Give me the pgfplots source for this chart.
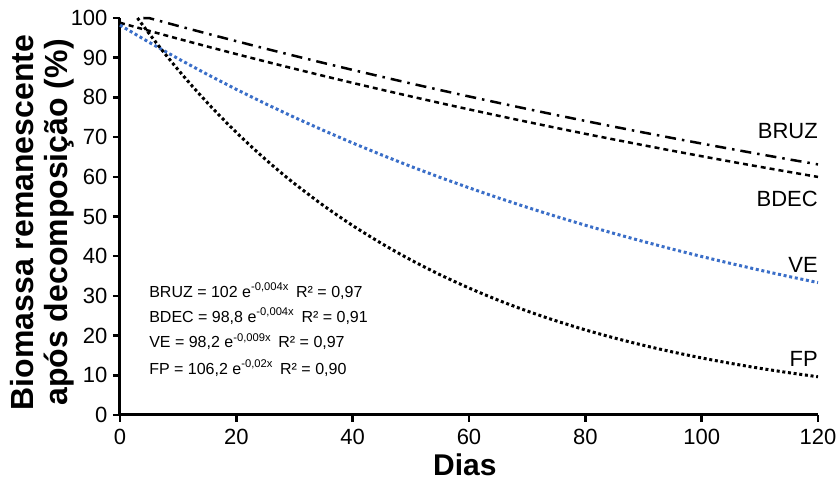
\documentclass[border=0pt]{standalone}
\usepackage{pgfplots}
\pgfplotsset{compat=1.18}
\usepackage{fontspec}
\setmainfont{Liberation Sans}
\definecolor{veblue}{RGB}{58,110,200}
\begin{document}
\begin{tikzpicture}
\begin{axis}[
  name=ax, at={(0,0)}, anchor=south west,
  width=698pt, height=397pt, scale only axis,
  xmin=0, xmax=120, ymin=0, ymax=100,
  axis lines=left, axis line style={-, line width=3pt},
  xtick={0,20,...,120}, ytick={0,10,...,100},
  tick align=outside, major tick length=7pt,
  tick style={line width=2.5pt, black},
  /pgf/number format/assume math mode=true,
  ticklabel style={font=\fontsize{22}{26}\selectfont},
  xticklabel style={yshift=-4pt},
  yticklabel style={xshift=-2pt},
  clip=false,
  xlabel={Dias},
  every axis x label/.style={at={(axis description cs:0.494,-0.126)}, anchor=center, font=\bfseries\fontsize{30}{34}\selectfont},
  ylabel={Biomassa remanescente\\após decomposição (\%)},
  every axis y label/.style={at={(axis description cs:-0.112,0.485)}, rotate=90, anchor=center, align=center, font=\bfseries\fontsize{32}{34}\selectfont},
]
% BRUZ = 102 e^{-0.004x}
\addplot[black, line width=2.5pt, line cap=butt, dash pattern=on 11pt off 6pt on 2.5pt off 6pt] coordinates {
(4,100) (5,99.98) (10,98.00) (15,96.06) (20,94.16) (25,92.29) (30,90.47) (35,88.67) (40,86.92) (45,85.20) (50,83.51) (55,81.86) (60,80.24) (65,78.65) (70,77.09) (75,75.56) (80,74.07) (85,72.60) (90,71.16) (95,69.75) (100,68.37) (105,67.02) (110,65.69) (115,64.39) (120,63.12)};
% BDEC
\addplot[black, line width=2.5pt, line cap=butt, dash pattern=on 5pt off 4pt] coordinates {
(0,98.8) (5,96.77) (10,94.77) (15,92.82) (20,90.91) (25,89.04) (30,87.21) (35,85.41) (40,83.65) (45,81.93) (50,80.25) (55,78.59) (60,76.98) (65,75.39) (70,73.84) (75,72.32) (80,70.83) (85,69.37) (90,67.95) (95,66.55) (100,65.18) (105,63.83) (110,62.52) (115,61.23) (120,59.97)};
% VE
\addplot[veblue, line width=3pt, line cap=butt, dash pattern=on 3pt off 2.7pt] coordinates {
(0,98.2) (5,93.88) (10,89.75) (15,85.80) (20,82.02) (25,78.41) (30,74.96) (35,71.67) (40,68.51) (45,65.50) (50,62.61) (55,59.86) (60,57.23) (65,54.71) (70,52.30) (75,50.00) (80,47.80) (85,45.70) (90,43.69) (95,41.76) (100,39.92) (105,38.17) (110,36.49) (115,34.88) (120,33.35)};
% FP
\addplot[black, line width=3pt, line cap=butt, dash pattern=on 3pt off 2.7pt, smooth] coordinates {
(3,100) (4,98.03) (5,96.09) (7.5,91.41) (10,86.95) (12.5,82.71) (15,78.68) (17.5,74.84) (20,71.19) (22.5,67.72) (25,64.41) (27.5,61.27) (30,58.28) (35,52.74) (40,47.72) (45,43.18) (50,39.07) (55,35.35) (60,31.99) (65,28.94) (70,26.19) (75,23.70) (80,21.44) (85,19.40) (90,17.55) (95,15.88) (100,14.37) (105,13.01) (110,11.77) (115,10.65) (120,9.63)};
% curve labels
\node[anchor=east, inner sep=0pt, font=\fontsize{22}{26}\selectfont] at (axis cs:120,71.6) {BRUZ};
\node[anchor=east, inner sep=0pt, font=\fontsize{22}{26}\selectfont] at (axis cs:120,54.4) {BDEC};
\node[anchor=east, inner sep=0pt, font=\fontsize{22}{26}\selectfont] at (axis cs:120,37.9) {VE};
\node[anchor=east, inner sep=0pt, font=\fontsize{22}{26}\selectfont] at (axis cs:120,14.0) {FP};
% equations
\node[anchor=base west, inner sep=0pt, font=\fontsize{16}{19}\selectfont] at (axis cs:5,29.7) {BRUZ = 102 e\textsuperscript{-0,004x}\hspace{0.45em}R² = 0,97};
\node[anchor=base west, inner sep=0pt, font=\fontsize{16}{19}\selectfont] at (axis cs:5,23.4) {BDEC = 98,8 e\textsuperscript{-0,004x}\hspace{0.45em}R² = 0,91};
\node[anchor=base west, inner sep=0pt, font=\fontsize{16}{19}\selectfont] at (axis cs:5,16.9) {VE = 98,2 e\textsuperscript{-0,009x}\hspace{0.45em}R² = 0,97};
\node[anchor=base west, inner sep=0pt, font=\fontsize{16}{19}\selectfont] at (axis cs:5,10.3) {FP = 106,2 e\textsuperscript{-0,02x}\hspace{0.45em}R² = 0,90};
\end{axis}
\pgfresetboundingbox
\useasboundingbox ([shift={(-120pt,-80pt)}]ax.south west) rectangle ([shift={(18pt,18pt)}]ax.north east);
\end{tikzpicture}
\end{document}
